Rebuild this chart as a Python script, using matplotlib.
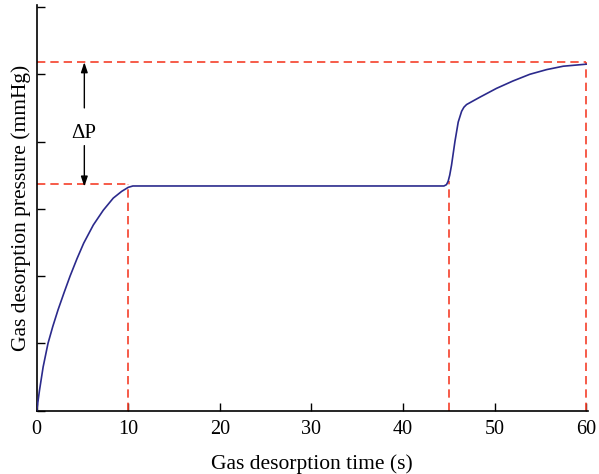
import numpy as np
import matplotlib
matplotlib.use("Agg")
import matplotlib.pyplot as plt

##Data##
t_rise = [0, 0.3, 0.7, 1.23, 1.75, 2.33, 3.0, 3.64, 4.4, 5.13, 6.18, 7.27, 8.36, 9.28, 10.0, 10.5]
p_rise = [0, 0.30, 0.65, 1.0, 1.25, 1.5, 1.76, 2.0, 2.26, 2.49, 2.76, 2.98, 3.16, 3.26, 3.32, 3.34]
t_jump = [44.47, 44.75, 44.93, 45.1, 45.3, 45.67, 46.03, 46.4, 46.65, 46.94, 47.6, 48.4,
          50.2, 52.0, 53.85, 55.7, 57.5, 60.0]
p_jump = [3.34, 3.36, 3.41, 3.50, 3.65, 4.0, 4.29, 4.45, 4.51, 4.55, 4.60, 4.66,
          4.79, 4.90, 5.0, 5.07, 5.12, 5.15]
t_curve = t_rise + t_jump
p_curve = p_rise + p_jump

p_first = 3.37     # first plateau (lower dashed line)
p_final = 5.18     # final pressure (upper dashed line)
t_marks = [10, 45, 60]
x_ticks = [0, 10, 20, 30, 40, 50, 60]
y_ticks = [0, 1, 2, 3, 4, 5, 6]

blue = "#2b2a8c"
red = "#f5402a"
serif = ["Liberation Serif", "DejaVu Serif"]

fig = plt.figure(figsize=(5.99, 4.74), dpi=100)
ax = fig.add_axes([0.0613, 0.1335, 0.9203, 0.856])

##Curve##
ax.plot(t_curve, p_curve, color=blue, lw=1.2, zorder=3)

##Dashed guides##
dash = dict(color=red, lw=1.2, ls=(0, (5, 3)), zorder=2)
ax.plot([0, t_marks[0]], [p_first, p_first], **dash)
ax.plot([0, t_marks[2]], [p_final, p_final], **dash)
ax.plot([t_marks[0], t_marks[0]], [0, p_first], **dash)
ax.plot([t_marks[1], t_marks[1]], [0, 3.42], **dash)
ax.plot([t_marks[2], t_marks[2]], [0, p_final], **dash)

##Delta P arrows##
arr = dict(arrowstyle="-|>,head_length=0.6,head_width=0.2", color="black", lw=1.0,
           shrinkA=0, shrinkB=0)
ax.annotate("", xy=(5.2, p_final), xytext=(5.2, 4.5), arrowprops=arr)
ax.annotate("", xy=(5.2, 3.33), xytext=(5.2, 3.94), arrowprops=arr)
ax.text(5.1, 4.12, "ΔP", ha="center", va="center", fontsize=15, family=serif)

##Axes styling##
ax.set_xlim(0, 60.2)
ax.set_ylim(0, 6.03)
ax.set_xticks(x_ticks)
ax.set_yticks(y_ticks)
ax.set_yticklabels([])
ax.tick_params(direction="in", length=6, width=1.0, labelsize=14.5, pad=7)
for lab in ax.get_xticklabels():
    lab.set_family(serif)
ax.spines["top"].set_visible(False)
ax.spines["right"].set_visible(False)
ax.spines["left"].set_linewidth(1.2)
ax.spines["bottom"].set_linewidth(1.2)
ax.set_xlabel("Gas desorption time (s)", fontsize=15.5, family=serif, labelpad=11)
ax.set_ylabel("Gas desorption pressure (mmHg)", fontsize=15.5, family=serif, labelpad=-3)

fig.savefig("out.png", dpi=100)
